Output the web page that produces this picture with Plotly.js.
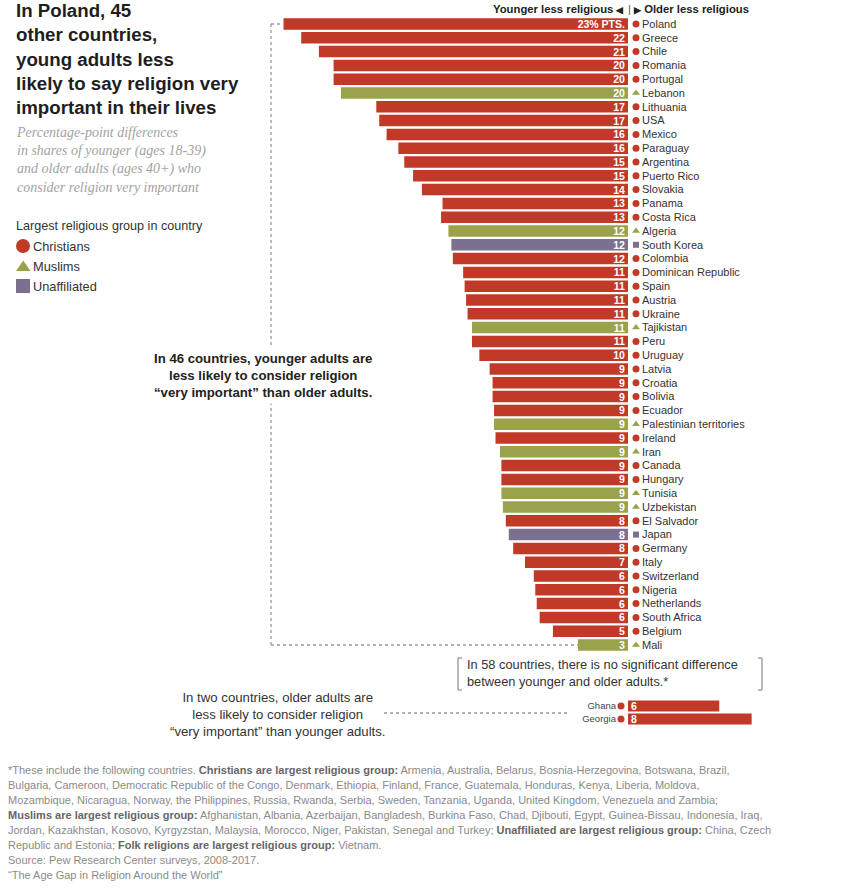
<!DOCTYPE html>
<html><head><meta charset="utf-8">
<script src="https://cdn.plot.ly/plotly-3.0.1.min.js"></script>
<style>html,body{margin:0;padding:0;background:#fff}#chart{width:852px;height:891px}</style>
</head><body><div id="chart"></div>
<script>
// ---- data ----
const countries = ["Poland","Greece","Chile","Romania","Portugal","Lebanon","Lithuania","USA","Mexico","Paraguay","Argentina","Puerto Rico","Slovakia","Panama","Costa Rica","Algeria","South Korea","Colombia","Dominican Republic","Spain","Austria","Ukraine","Tajikistan","Peru","Uruguay","Latvia","Croatia","Bolivia","Ecuador","Palestinian territories","Ireland","Iran","Canada","Hungary","Tunisia","Uzbekistan","El Salvador","Japan","Germany","Italy","Switzerland","Nigeria","Netherlands","South Africa","Belgium","Mali"];
const values = [23.4,22.2,21.0,20.0,20.0,19.5,17.1,16.9,16.4,15.6,15.2,14.6,14.0,12.6,12.7,12.2,12.0,11.9,11.2,11.1,11.0,10.9,10.6,10.6,10.1,9.4,9.2,9.2,9.1,9.1,9.0,8.7,8.6,8.6,8.6,8.5,8.3,8.1,7.8,7.0,6.4,6.3,6.2,6.0,5.1,3.4];
const labels = ["23% PTS.","22","21","20","20","20","17","17","16","16","15","15","14","13","13","12","12","12","11","11","11","11","11","11","10","9","9","9","9","9","9","9","9","9","9","9","8","8","8","7","6","6","6","6","5","3"];
const groups = ["C","C","C","C","C","M","C","C","C","C","C","C","C","C","C","M","U","C","C","C","C","C","M","C","C","C","C","C","C","M","C","M","C","C","M","M","C","U","C","C","C","C","C","C","C","M"];
const olderCountries = ["Ghana","Georgia"];
const olderValues = [6.2,8.4];
const olderLabels = ["6","8"];
const olderGroups = ["C","C"];
const groupNames = {C:"Christians", M:"Muslims", U:"Unaffiliated"};
const legendTitle = "Largest religious group in country";

// ---- styles ----
const W = 852, H = 891;
const FONT = "Liberation Sans, Arial, sans-serif";
const COLORS = {C:"#c13a28", M:"#9aa34a", U:"#7b7090"};
const SYMBOLS = {C:"circle", M:"triangle-up", U:"square"};
const S = 14.72, ZERO = 628, XL = 260, XR = 760;
const px = x => x / W, py = y => 1 - y / H;
const toX = p => (p - ZERO) / S;
const barFont = {family:FONT, size:10.5, color:"#fff", weight:"bold"};

const traces = [];
["C","M","U"].forEach(g => {
  const idx = countries.map((c,i)=>i).filter(i => groups[i] === g);
  traces.push({type:"bar", orientation:"h", name:groupNames[g], showlegend:false,
    y: idx.map(i=>countries[i]), x: idx.map(i=>-values[i]), text: idx.map(i=>labels[i]),
    textposition:"inside", insidetextanchor:"start", constraintext:"none", textangle:0,
    textfont:barFont, marker:{color:COLORS[g], line:{width:0}}, hoverinfo:"skip", xaxis:"x", yaxis:"y"});
  traces.push({type:"scatter", mode:"markers", showlegend:false,
    y: idx.map(i=>countries[i]), x: idx.map(()=>toX(636)),
    marker:{symbol:SYMBOLS[g], color:COLORS[g], size: g==="U"?6:7}, hoverinfo:"skip", xaxis:"x", yaxis:"y", cliponaxis:false});
});
traces.push({type:"bar", orientation:"h", showlegend:false, y:olderCountries, x:olderValues, text:olderLabels,
  textposition:"inside", insidetextanchor:"start", constraintext:"none", textangle:0, textfont:barFont,
  marker:{color:olderGroups.map(g=>COLORS[g]), line:{width:0}}, hoverinfo:"skip", xaxis:"x2", yaxis:"y2"});
traces.push({type:"scatter", mode:"markers", showlegend:false, y:olderCountries, x:olderCountries.map(()=>toX(621)),
  marker:{symbol:olderGroups.map(g=>SYMBOLS[g]), color:olderGroups.map(g=>COLORS[g]), size:7}, hoverinfo:"skip", xaxis:"x2", yaxis:"y2", cliponaxis:false});

const ann = [];
function A(text, x, y, o) { ann.push(Object.assign({text, x:px(x), y:py(y), xref:"paper", yref:"paper", showarrow:false, xanchor:"left", yanchor:"middle", align:"left", font:{family:FONT, size:12, color:"#333"}}, o||{})); }
A("In Poland, 45<br>other countries,<br>young adults less<br>likely to say religion very<br>important in their lives", 14, 59, {font:{family:FONT, size:18.7, color:"#1e1e1e", weight:"bold"}});
A("Percentage-point differences<br>in shares of younger (ages 18-39)<br>and older adults (ages 40+) who<br>consider religion very important", 14, 160, {font:{family:"Liberation Serif, serif", size:14, color:"#a3a3a3", style:"italic"}});
A(legendTitle, 14, 226, {font:{family:FONT, size:12.6, color:"#333"}});
A(groupNames.C, 31, 246, {font:{family:FONT, size:12.8, color:"#333"}});
A(groupNames.M, 31, 266, {font:{family:FONT, size:12.8, color:"#333"}});
A(groupNames.U, 31, 286, {font:{family:FONT, size:12.8, color:"#333"}});
A("Younger less religious <span style='font-size:9px'>◀</span>", 626, 9, {xanchor:"right", font:{family:FONT, size:11.3, color:"#222", weight:"bold"}});
A("|", 629, 9, {xanchor:"center", font:{family:FONT, size:11.3, color:"#555"}});
A("<span style='font-size:9px'>▶</span> Older less religious", 631, 9, {font:{family:FONT, size:11.3, color:"#222", weight:"bold"}});
A("In 46 countries, younger adults are<br>less likely to consider religion<br>“very important” than older adults.", 263, 375, {xanchor:"center", align:"center", bgcolor:"#fff", borderpad:3, font:{family:FONT, size:13.2, color:"#222", weight:"bold"}});
A("In 58 countries, there is no significant difference<br>between younger and older adults.*", 465, 673, {font:{family:FONT, size:12.8, color:"#333"}});
A("In two countries, older adults are<br>less likely to consider religion<br>“very important” than younger adults.", 278, 714, {xanchor:"center", align:"center", font:{family:FONT, size:13.2, color:"#333"}});
const foot = [
 "*These include the following countries. <b>Christians are largest religious group:</b> Armenia, Australia, Belarus, Bosnia-Herzegovina, Botswana, Brazil,",
 "Bulgaria, Cameroon, Democratic Republic of the Congo, Denmark, Ethiopia, Finland, France, Guatemala, Honduras, Kenya, Liberia, Moldova,",
 "Mozambique, Nicaragua, Norway, the Philippines, Russia, Rwanda, Serbia, Sweden, Tanzania, Uganda, United Kingdom, Venezuela and Zambia;",
 "<b>Muslims are largest religious group:</b> Afghanistan, Albania, Azerbaijan, Bangladesh, Burkina Faso, Chad, Djibouti, Egypt, Guinea-Bissau, Indonesia, Iraq,",
 "Jordan, Kazakhstan, Kosovo, Kyrgyzstan, Malaysia, Morocco, Niger, Pakistan, Senegal and Turkey; <b>Unaffiliated are largest religious group:</b> China, Czech",
 "Republic and Estonia; <b>Folk religions are largest religious group:</b> Vietnam.",
 "Source: Pew Research Center surveys, 2008-2017.",
 "“The Age Gap in Religion Around the World”"];
foot.forEach((t,i) => A(t.replace(/<b>/g,"<b><span style='color:#666'>").replace(/<\/b>/g,"</span></b>"), 6, 770 + i*15, {font:{family:FONT, size:11, color:"#8a8a8a"}}));

const dot = {color:"#9a9a9a", width:1.3, dash:"dot"};
const shapes = [
  {type:"line", xref:"paper", yref:"paper", x0:px(271), x1:px(271), y0:py(24), y1:py(645), line:dot},
  {type:"line", xref:"x", yref:"y", x0:toX(271), x1:-values[0], y0:0, y1:0, line:dot},
  {type:"line", xref:"x", yref:"y", x0:toX(271), x1:-values[values.length-1], y0:countries.length-1, y1:countries.length-1, line:dot},
  {type:"line", xref:"paper", yref:"paper", x0:px(384), x1:px(570), y0:py(713), y1:py(713), line:dot},
  {type:"path", xref:"paper", yref:"paper", path:`M ${px(462)} ${py(658)} L ${px(458)} ${py(658)} L ${px(458)} ${py(690)} L ${px(462)} ${py(690)}`, line:{color:"#777", width:1}},
  {type:"path", xref:"paper", yref:"paper", path:`M ${px(758)} ${py(658)} L ${px(762)} ${py(658)} L ${px(762)} ${py(690)} L ${px(758)} ${py(690)}`, line:{color:"#777", width:1}},
  {type:"circle", xref:"paper", yref:"paper", x0:px(16), x1:px(30), y0:py(239), y1:py(253), fillcolor:COLORS.C, line:{width:0}},
  {type:"path", xref:"paper", yref:"paper", path:`M ${px(16)} ${py(271)} L ${px(30.5)} ${py(271)} L ${px(23.2)} ${py(260.5)} Z`, fillcolor:COLORS.M, line:{width:0}},
  {type:"rect", xref:"paper", yref:"paper", x0:px(16), x1:px(30), y0:py(279), y1:py(293), fillcolor:COLORS.U, line:{width:0}}
];

const rowTop = 17.1, rowBot = 651.9;
const layout = {
  width:W, height:H, margin:{l:0,r:0,t:0,b:0}, paper_bgcolor:"#fff", plot_bgcolor:"rgba(0,0,0,0)",
  showlegend:false, barmode:"overlay", bargap:0.17,
  font:{family:FONT},
  xaxis:{domain:[px(XL), px(XR)], range:[toX(XL), toX(XR)], visible:false, fixedrange:true, anchor:"y"},
  yaxis:{domain:[py(rowBot), py(rowTop)], type:"category", categoryorder:"array", categoryarray:countries,
    range:[countries.length-0.5, -0.5], side:"right", anchor:"free", position:px(641), showgrid:false, zeroline:false, showline:false,
    ticks:"", tickfont:{family:FONT, size:11, color:"#333"}},
  xaxis2:{domain:[px(XL), px(XR)], matches:"x", anchor:"y2", visible:false},
  yaxis2:{domain:[py(725.5), py(699.5)], type:"category", categoryorder:"array", categoryarray:olderCountries,
    range:[1.5,-0.5], side:"left", anchor:"free", position:px(616), showgrid:false, zeroline:false, showline:false,
    ticks:"", tickfont:{family:FONT, size:9.5, color:"#444"}},
  annotations:ann, shapes:shapes
};
Plotly.newPlot("chart", traces, layout, {staticPlot:true, displayModeBar:false});
</script></body></html>
